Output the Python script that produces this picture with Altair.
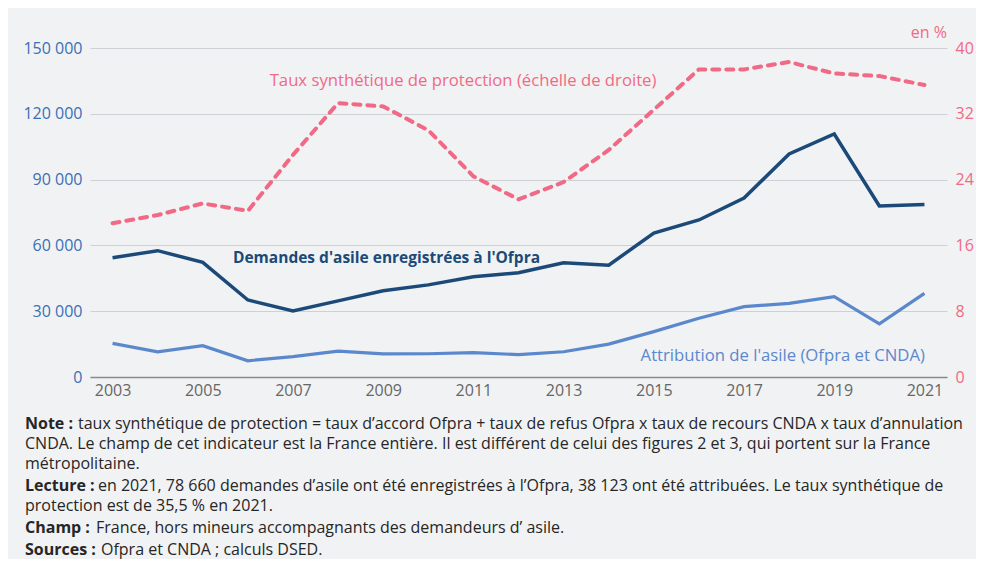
import altair as alt
import pandas as pd

years = list(range(2003, 2022))
demandes = [54400, 57600, 52300, 35100, 30100, 34700, 39300, 42000, 45700, 47500,
            52100, 51000, 65600, 71600, 81600, 101700, 110800, 78000, 78660]
attribution = [15300, 11500, 14300, 7400, 9300, 11800, 10500, 10600, 11100, 10200,
               11500, 15000, 20700, 26800, 32100, 33600, 36600, 24200, 38123]
taux = [18.7, 19.7, 21.1, 20.2, 27.0, 33.3, 32.9, 30.0, 24.4, 21.6,
        23.7, 27.6, 32.5, 37.4, 37.4, 38.3, 36.9, 36.6, 35.5]

x_ticks = [2003, 2005, 2007, 2009, 2011, 2013, 2015, 2017, 2019, 2021]
left_ticks = [0, 30000, 60000, 90000, 120000, 150000]
right_ticks = [0, 8, 16, 24, 32, 40]

label_demandes = "Demandes d'asile enregistrées à l'Ofpra"
label_attrib = "Attribution de l'asile (Ofpra et CNDA)"
label_taux = "Taux synthétique de protection (échelle de droite)"

notes = [
    ("Note :", "taux synthétique de protection = taux d’accord Ofpra + taux de refus Ofpra x taux de recours CNDA x taux d’annulation"),
    ("", "CNDA. Le champ de cet indicateur est la France entière. Il est différent de celui des figures 2 et 3, qui portent sur la France"),
    ("", "métropolitaine."),
    ("Lecture :", "en 2021, 78 660 demandes d’asile ont été enregistrées à l’Ofpra, 38 123 ont été attribuées. Le taux synthétique de"),
    ("", "protection est de 35,5 % en 2021."),
    ("Champ :", "France, hors mineurs accompagnants des demandeurs d’ asile."),
    ("Sources :", "Ofpra et CNDA ; calculs DSED."),
]

NAVY = "#1b4a79"
LIGHT = "#5b88cc"
PINK = "#f06a85"
FONT = "Open Sans"

df = pd.DataFrame({"year": years, "demandes": demandes,
                   "attribution": attribution, "taux": taux})

base = alt.Chart(df)
xenc = alt.X("year:Q", scale=alt.Scale(domain=[2002.5, 2021.5], nice=False, zero=False),
             axis=alt.Axis(values=x_ticks, format="d", title=None, grid=False, ticks=False,
                           domainColor="#8a8a8a", domainWidth=1.5, labelColor="#666666",
                           labelFontSize=16, labelFont=FONT, labelPadding=5))

yleft_scale = alt.Scale(domain=[0, 150000], nice=False)
yright_scale = alt.Scale(domain=[0, 40], nice=False)

yleft_axis = alt.Axis(values=left_ticks, title=None, orient="left", domain=False, ticks=False,
                      grid=True, gridColor="#cfd0d3", gridWidth=1,
                      labelColor="#3a6fb6", labelFontSize=16, labelFont=FONT, labelPadding=8,
                      labelExpr="replace(format(datum.value, ','), ',', ' ')")
yright_axis = alt.Axis(values=right_ticks, title=None, orient="right", domain=False, ticks=False,
                       grid=False, labelColor=PINK, labelFontSize=16, labelFont=FONT,
                       labelPadding=8)

line_dem = base.mark_line(color=NAVY, strokeWidth=3.5).encode(
    x=xenc, y=alt.Y("demandes:Q", scale=yleft_scale, axis=yleft_axis))
line_att = base.mark_line(color=LIGHT, strokeWidth=3.2).encode(
    x="year:Q", y=alt.Y("attribution:Q"))

one = alt.Data(values=[{}])
txt_dem = alt.Chart(one).mark_text(text=label_demandes, color=NAVY, font=FONT, fontSize=15.5,
                                   fontWeight="bold", align="left", baseline="middle").encode(
    x=alt.datum(2005.67), y=alt.datum(54300))
txt_att = alt.Chart(one).mark_text(text=label_attrib, color=LIGHT, font=FONT, fontSize=16.7,
                                   align="right", baseline="middle").encode(
    x=alt.datum(2021.01), y=alt.datum(9600))

left = alt.layer(line_dem, line_att, txt_dem, txt_att)

line_taux = base.mark_line(color=PINK, strokeWidth=4, strokeDash=[7, 7], strokeCap="round").encode(
    x="year:Q", y=alt.Y("taux:Q", scale=yright_scale, axis=yright_axis))
txt_taux = alt.Chart(one).mark_text(text=label_taux, color=PINK, font=FONT, fontSize=16.7,
                                    align="center", baseline="middle").encode(
    x=alt.datum(2010.77), y=alt.datum(36.0))
txt_pct = alt.Chart(one).mark_text(text="en %", color=PINK, font=FONT, fontSize=16,
                                   align="right", baseline="middle").encode(
    x=alt.value(857), y=alt.value(-15))

right = alt.layer(line_taux, txt_taux, txt_pct)

note_y = [376, 396, 416, 438, 458, 480, 502]
bold_w = {"Note :": 53, "Lecture :": 73, "Champ :": 71, "Sources :": 76}
note_layers = []
for (b, r), yy in zip(notes, note_y):
    x0 = -65
    if b:
        note_layers.append(alt.Chart(one).mark_text(
            text=b, color="#262626", font=FONT, fontSize=16, fontWeight="bold",
            align="left", baseline="middle").encode(x=alt.value(x0), y=alt.value(yy)))
        x0 += bold_w[b]
    note_layers.append(alt.Chart(one).mark_text(
        text=r, color="#262626", font=FONT, fontSize=16,
        align="left", baseline="middle").encode(x=alt.value(x0), y=alt.value(yy)))

chart = alt.layer(left, right, *note_layers).resolve_scale(y="independent").properties(
    width=857, height=329,
    autosize=alt.AutoSizeParams(type="none"),
    padding={"left": 82, "top": 40, "right": 29, "bottom": 182},
    background="#f1f2f4",
).configure_view(stroke=None)

chart.save("out.html", embed_options={"renderer": "svg", "actions": False})
